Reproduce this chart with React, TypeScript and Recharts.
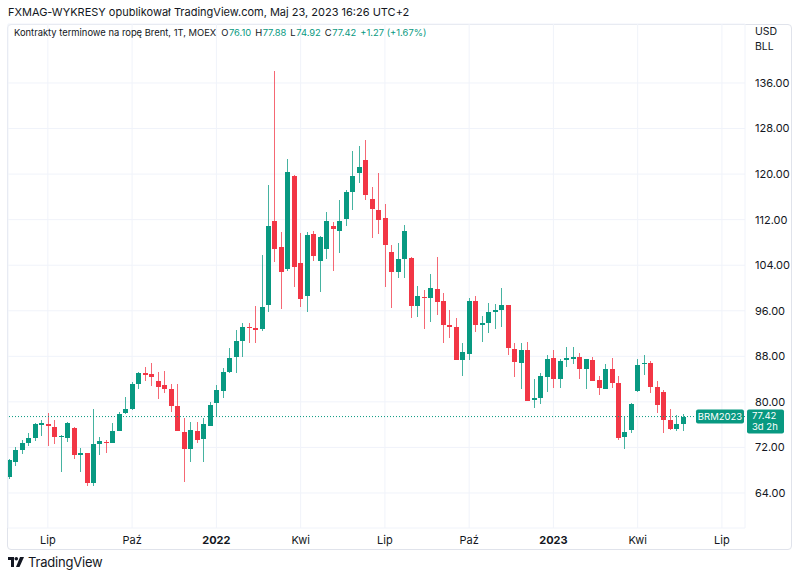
import {
  Bar,
  CartesianGrid,
  ComposedChart,
  ReferenceLine,
  XAxis,
  YAxis,
} from "recharts";

document.body.style.margin = "0";

const FONT = "Inter, 'Noto Sans', sans-serif";
const UP = "#089981";
const DOWN = "#f23645";
const TEXT = "#131722";

// weekly candles, Brent futures on MOEX, week of 24 May 2021 .. week of 22 May 2023
const opens = [
  66.8, 69.4, 71.5, 72.8, 73.7, 76.0, 76.1, 75.6, 73.8, 73.7,
  75.4, 70.7, 71.0, 65.8, 72.6, 73.0, 72.8, 74.9, 78.0, 78.7,
  83.1, 85.1, 84.9, 83.7, 83.0, 82.3, 79.3, 74.7, 71.7, 74.9,
  73.5, 75.8, 79.8, 81.9, 85.2, 87.9, 90.7, 93.1, 93.0, 92.8,
  97.0, 111.8, 107.2, 103.3, 119.7, 104.4, 98.6, 109.5, 104.7, 106.8,
  110.9, 110.0, 112.1, 116.9, 120.2, 122.5, 115.6, 113.7, 112.3, 106.3,
  102.8, 105.1, 105.3, 96.8, 98.4, 98.2, 99.8, 97.7, 93.5, 93.1,
  87.4, 88.4, 97.7, 93.5, 93.9, 95.8, 96.1, 97.0, 89.3, 86.8,
  89.1, 80.3, 80.7, 84.4, 87.7, 84.0, 87.4, 87.5, 87.9, 85.8,
  87.4, 83.8, 82.3, 85.8, 83.3, 73.8, 75.1, 81.9, 86.6, 86.8,
  82.6, 81.7, 76.8, 75.2, 76.1,
];
const highs = [
  70.0, 72.1, 73.3, 74.5, 76.3, 76.8, 78.0, 76.8, 74.2, 76.5,
  75.5, 71.9, 71.0, 78.7, 73.8, 73.3, 76.3, 78.2, 80.9, 83.5,
  85.2, 86.1, 86.8, 85.2, 85.4, 83.1, 83.1, 77.2, 76.5, 76.5,
  77.2, 80.0, 83.0, 85.9, 89.5, 92.6, 93.8, 93.8, 96.8, 105.8,
  118.1, 138.1, 109.8, 122.7, 119.8, 109.7, 109.8, 110.0, 109.2, 113.3,
  111.6, 115.5, 117.2, 124.1, 124.9, 126.0, 117.8, 120.2, 114.8, 107.5,
  107.9, 111.1, 105.4, 100.3, 99.6, 102.5, 105.4, 99.1, 96.1, 94.7,
  90.3, 98.2, 98.6, 95.1, 97.4, 97.2, 100.0, 97.0, 90.3, 90.3,
  90.5, 84.0, 85.1, 88.2, 89.1, 87.5, 89.6, 89.6, 88.6, 87.6,
  87.9, 84.5, 86.6, 87.7, 84.5, 77.3, 79.8, 87.5, 88.2, 87.2,
  83.7, 82.1, 78.7, 77.7, 77.88,
];
const lows = [
  66.5, 68.7, 70.8, 72.3, 73.1, 74.0, 72.3, 72.6, 67.7, 73.0,
  70.0, 67.7, 65.2, 65.2, 70.7, 71.1, 72.8, 74.8, 77.9, 78.6,
  82.3, 83.7, 82.8, 80.5, 81.5, 78.2, 74.9, 65.9, 69.4, 72.8,
  69.4, 75.8, 77.3, 80.7, 85.0, 85.1, 87.9, 90.3, 90.3, 92.4,
  95.8, 104.6, 96.3, 103.0, 100.2, 96.7, 95.8, 104.7, 99.3, 105.1,
  103.0, 106.1, 110.9, 113.7, 118.4, 115.5, 108.8, 109.5, 100.2, 96.5,
  101.8, 101.8, 94.7, 94.9, 92.8, 94.0, 95.3, 90.3, 91.2, 87.4,
  84.5, 87.4, 92.3, 90.5, 92.1, 92.8, 93.1, 88.2, 84.4, 82.3,
  80.2, 78.9, 79.6, 81.7, 82.4, 82.4, 86.1, 86.6, 84.0, 82.3,
  83.6, 81.2, 82.2, 82.4, 73.3, 71.7, 74.5, 81.8, 84.7, 81.6,
  78.0, 74.5, 75.0, 74.9, 74.92,
];
const closes = [
  69.8, 71.5, 72.8, 73.7, 76.1, 76.3, 75.8, 73.8, 74.0, 76.3,
  70.7, 71.0, 65.8, 72.6, 73.1, 72.8, 74.9, 77.9, 78.7, 83.1,
  85.1, 84.7, 84.4, 82.6, 82.3, 79.3, 74.9, 71.7, 75.0, 73.3,
  76.1, 79.4, 82.1, 85.2, 87.7, 90.7, 93.1, 93.0, 92.7, 96.7,
  110.9, 106.8, 102.8, 120.4, 103.7, 98.1, 109.3, 105.6, 109.0, 111.8,
  110.4, 111.8, 116.9, 119.7, 121.2, 116.3, 113.9, 111.9, 107.6, 102.8,
  105.1, 110.0, 96.8, 98.6, 98.2, 100.0, 97.5, 93.5, 93.1, 87.4,
  88.8, 97.7, 93.5, 93.9, 95.8, 96.1, 97.0, 89.5, 87.0, 89.1,
  80.2, 80.7, 84.5, 87.5, 84.0, 87.2, 87.7, 87.9, 85.8, 87.5,
  83.7, 82.4, 85.8, 83.3, 73.7, 74.7, 79.6, 86.5, 86.8, 82.6,
  79.4, 76.8, 75.2, 76.1, 77.42,
];

// x axis: bar index of the first weekly bar of each labelled month
const tickIndex = [6, 19, 32, 45, 58, 71, 84, 97, 110];
const tickLabels = ["Lip", "Paź", "2022", "Kwi", "Lip", "Paź", "2023", "Kwi", "Lip"];
const priceTicks = [64, 72, 80, 88, 96, 104, 112, 120, 128, 136];
const lastPrice = 77.42;

const rows = opens.map((open, i) => ({
  i,
  open,
  high: highs[i],
  low: lows[i],
  close: closes[i],
}));

function Candle(props: any) {
  const { x, y, width, height, payload } = props;
  if (x == null || y == null) return null;
  const top = Math.min(y, y + height);
  const h = Math.abs(height);
  const span = payload.high - payload.low || 1;
  const yOf = (p: number) => top + ((payload.high - p) / span) * h;
  const up = payload.close >= payload.open;
  const color = up ? UP : DOWN;
  const wx = Math.round(x + width / 2 - 0.5);
  const bTop = yOf(Math.max(payload.open, payload.close));
  const bBot = yOf(Math.min(payload.open, payload.close));
  return (
    <g shapeRendering="crispEdges">
      <rect x={wx} y={top} width={1} height={Math.max(h, 1)} fill={color} opacity={0.75} />
      <rect x={wx - 2} y={bTop} width={5} height={Math.max(bBot - bTop, 1)} fill={color} />
    </g>
  );
}

function XTick(props: any) {
  const { x, y, payload } = props;
  const label = tickLabels[tickIndex.indexOf(payload.value)] ?? "";
  const bold = label.startsWith("20");
  return (
    <text
      x={x}
      y={y}
      dy="0.71em"
      textAnchor="middle"
      fontSize={11}
      fontFamily={FONT}
      fontWeight={bold ? 700 : 400}
      fill={TEXT}
    >
      {label}
    </text>
  );
}

function PriceTag(props: any) {
  const vb = props.viewBox;
  if (!vb) return null;
  const right = vb.x + vb.width;
  const y = vb.y;
  return (
    <g fontFamily={FONT}>
      <rect x={right - 49} y={y - 7} width={48} height={14} rx={2} fill={UP} />
      <text x={right - 25} y={y} dy="0.35em" textAnchor="middle" fontSize={9.5} fill="#fff">
        BRM2023
      </text>
      <rect x={right + 2} y={y - 7} width={37} height={24} rx={2} fill={UP} />
      <text x={right + 7} y={y - 0.5} dy="0.35em" fontSize={9.5} fill="#fff">
        {lastPrice.toFixed(2)}
      </text>
      <text x={right + 7} y={y + 10.5} dy="0.35em" fontSize={9.5} fill="#fff">
        3d 2h
      </text>
    </g>
  );
}

export default function App() {
  const val = { color: UP, marginLeft: 0.5, marginRight: 4 };
  return (
    <div style={{ position: "relative", width: 800, height: 576, background: "#fff", fontFamily: FONT, color: TEXT }}>
      <div style={{ position: "absolute", left: 8, top: 5, fontSize: 11 }}>
        FXMAG-WYKRESY opublikował TradingView.com, Maj 23, 2023 16:26 UTC+2
      </div>
      <div
        style={{
          position: "absolute",
          left: 7,
          top: 24,
          width: 785,
          height: 526,
          border: "1px solid #e0e3eb",
          borderRadius: 4,
          boxSizing: "border-box",
        }}
      />
      <ComposedChart
        width={800}
        height={576}
        data={rows}
        margin={{ top: 24, right: 0, bottom: 28, left: 8 }}
      >
        <CartesianGrid stroke="#f0f3fa" />
        <XAxis
          dataKey="i"
          type="number"
          domain={[-0.15, 113.56]}
          allowDataOverflow
          ticks={tickIndex}
          interval={0}
          tick={<XTick />}
          axisLine={false}
          tickLine={false}
          height={20}
        />
        <YAxis
          orientation="right"
          type="number"
          domain={[57.85, 146.36]}
          allowDataOverflow
          ticks={priceTicks}
          interval={0}
          tickFormatter={(v: number) => v.toFixed(2)}
          tick={{ fontSize: 11, fill: TEXT, fontFamily: FONT }}
          axisLine={false}
          tickLine={false}
          tickMargin={4}
          width={55}
        />
        <ReferenceLine
          y={lastPrice}
          stroke={UP}
          strokeDasharray="1 2"
          label={<PriceTag />}
        />
        <Bar
          dataKey={(d: any) => [d.low, d.high]}
          barSize={5}
          shape={<Candle />}
          isAnimationActive={false}
        />
      </ComposedChart>
      <div style={{ position: "absolute", left: 14, top: 27, fontSize: 9.4, whiteSpace: "nowrap" }}>
        <span style={{ marginRight: 5 }}>Kontrakty terminowe na ropę Brent, 1T, MOEX</span>
        O<span style={val}>76.10</span>
        H<span style={val}>77.88</span>
        L<span style={val}>74.92</span>
        C<span style={val}>77.42</span>
        <span style={{ color: UP }}>+1.27 (+1.67%)</span>
      </div>
      <div style={{ position: "absolute", left: 755, top: 24, fontSize: 10.5, lineHeight: "15px" }}>
        USD
        <br />
        BLL
      </div>
      <div style={{ position: "absolute", left: 8, top: 554, display: "flex", alignItems: "center", gap: 4 }}>
        <svg width={16} height={10} viewBox="0 0 16 10">
          <path d="M0 0h6v10H3V3H0z" fill={TEXT} />
          <circle cx={8.3} cy={1.8} r={1.8} fill={TEXT} />
          <path d="M12 0h4l-4.5 10H8z" fill={TEXT} />
        </svg>
        <span style={{ fontSize: 13, letterSpacing: -0.2 }}>TradingView</span>
      </div>
    </div>
  );
}
